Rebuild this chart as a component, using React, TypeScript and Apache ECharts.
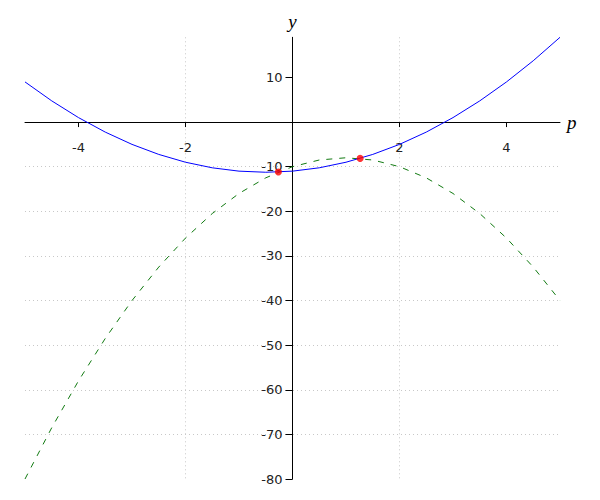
import React, { useEffect, useRef } from "react";
import * as echarts from "echarts";

const pValues = [-5, -4.5, -4, -3.5, -3, -2.5, -2, -1.5, -1, -0.5, 0, 0.5, 1, 1.5, 2, 2.5, 3, 3.5, 4, 4.5, 5];
const blueValues = [9, 4.75, 1, -2.25, -5, -7.25, -9, -10.25, -11, -11.25, -11, -10.25, -9, -7.25, -5, -2.25, 1, 4.75, 9, 13.75, 19];
const greenValues = [-80, -68.5, -58, -48.5, -40, -32.5, -26, -20.5, -16, -12.5, -10, -8.5, -8, -8.5, -10, -12.5, -16, -20.5, -26, -32.5, -40];
const pointP = [-0.264, 1.264];
const pointY = [-11.194, -8.138];
const xTickLabels = [-4, -2, 2, 4];
const xTicks = [-4, -2, 0, 2, 4];
const yTickLabels = [-80, -70, -60, -50, -40, -30, -20, -10, 10];
const yTicks = [-80, -70, -60, -50, -40, -30, -20, -10, 0, 10];

const X_MIN = -5;
const X_MAX = 5;
const Y_MIN = -80;
const Y_MAX = 19;

export default function App() {
  const ref = useRef<HTMLDivElement>(null);
  useEffect(() => {
    if (!ref.current) return;
    const chart = echarts.init(ref.current, undefined, { renderer: "svg" });
    const blue = pValues.map((p, i) => [p, blueValues[i]]);
    const green = pValues.map((p, i) => [p, greenValues[i]]);
    const pts = pointP.map((p, i) => [p, pointY[i]]);

    const W = 600, H = 500;
    const gl = 25, gr = 40, gt = 37.3, gb = 21;
    const gw = W - gl - gr;
    const gh = H - gt - gb;
    // distance from grid edges to the zero lines, so the axes sit at the origin
    const yZeroFromBottom = ((0 - Y_MIN) / (Y_MAX - Y_MIN)) * gh;
    const xZeroFromLeft = ((0 - X_MIN) / (X_MAX - X_MIN)) * gw;

    const labelStyle = { color: "#222", fontFamily: "DejaVu Sans", fontSize: 13 };
    const gridLine = { show: true, lineStyle: { color: "#c8c8c8", width: 1, type: [1, 3] as any }, showMinLine: false, showMaxLine: false };
    chart.setOption({
      animation: false,
      backgroundColor: "#ffffff",
      grid: { left: gl, right: gr, top: gt, bottom: gb, containLabel: false, outerBoundsMode: "none" },
      xAxis: {
        type: "value",
        min: X_MIN,
        max: X_MAX,
        position: "bottom",
        offset: -yZeroFromBottom,
        name: "p",
        nameLocation: "end",
        nameGap: 7,
        nameTextStyle: { fontFamily: "Liberation Serif", fontStyle: "italic", fontSize: 19, color: "#000" },
        axisLine: { onZero: false, lineStyle: { color: "#000", width: 1 } },
        axisTick: { show: true, length: 5, customValues: xTicks, lineStyle: { color: "#000" } },
        axisLabel: { ...labelStyle, margin: 19, customValues: xTickLabels },
        splitLine: gridLine,
      },
      yAxis: {
        type: "value",
        min: Y_MIN,
        max: Y_MAX,
        interval: 10,
        position: "left",
        offset: -xZeroFromLeft,
        name: "y",
        nameLocation: "end",
        nameGap: 6,
        nameTextStyle: { fontFamily: "Liberation Serif", fontStyle: "italic", fontSize: 19, color: "#000" },
        axisLine: { onZero: false, lineStyle: { color: "#000", width: 1 } },
        axisTick: { show: true, length: 7, customValues: yTicks, lineStyle: { color: "#000" } },
        axisLabel: { ...labelStyle, margin: 10, customValues: yTickLabels },
        splitLine: gridLine,
      },
      series: [
        {
          type: "line",
          data: blue,
          showSymbol: false,
          lineStyle: { color: "#0000ff", width: 1 },
          z: 3,
        },
        {
          type: "line",
          data: green,
          showSymbol: false,
          lineStyle: { color: "#117a11", width: 1, type: [6, 7] as any },
          z: 2,
        },
        {
          type: "scatter",
          data: pts,
          symbolSize: 7,
          itemStyle: { color: "#ff0000" },
          z: 5,
        },
      ],
    });
    return () => chart.dispose();
  }, []);
  return <div ref={ref} style={{ position: "absolute", left: 0, top: 0, width: 600, height: 500 }} />;
}
